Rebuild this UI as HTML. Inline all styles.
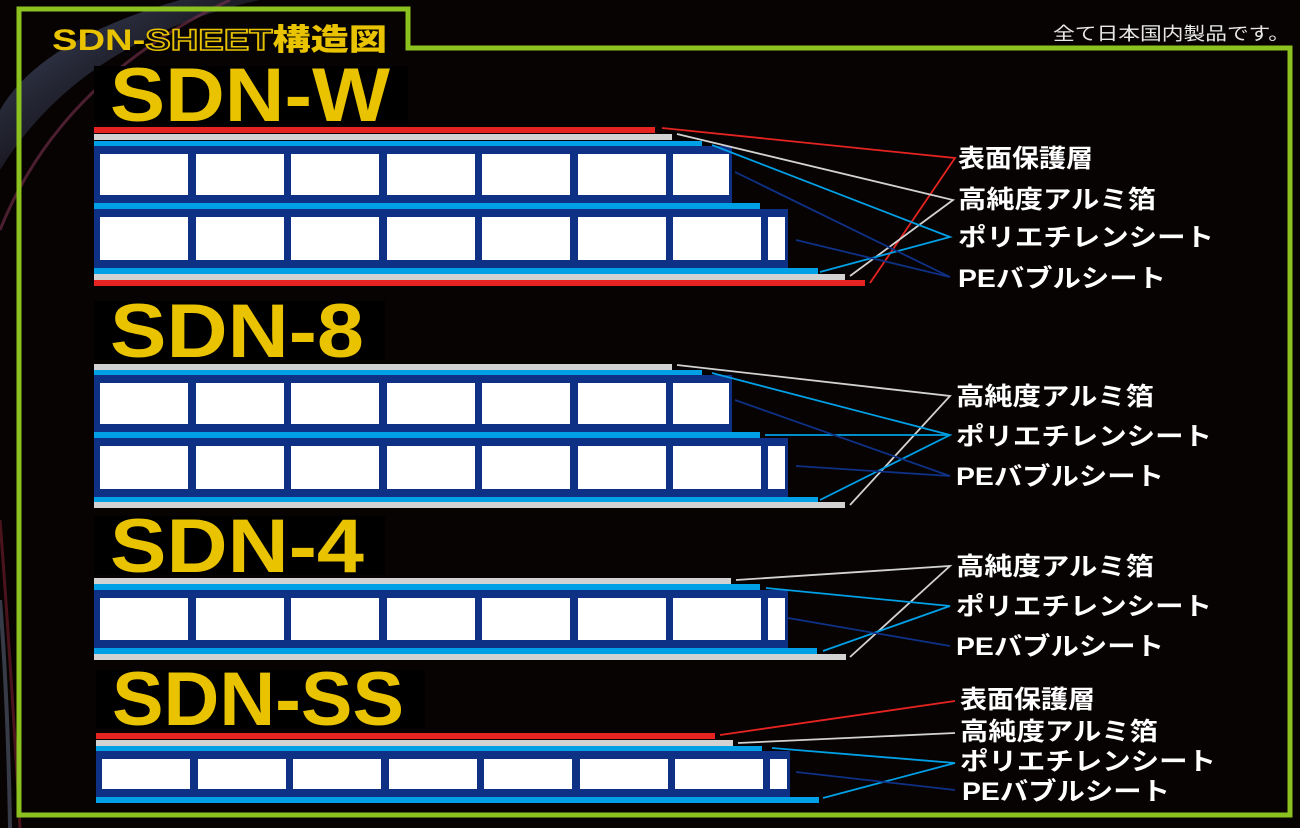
<!DOCTYPE html>
<html><head><meta charset="utf-8"><style>
html,body{margin:0;padding:0;background:#070302;width:1300px;height:828px;overflow:hidden}
svg{display:block}
.lb{font-family:"Liberation Sans","Noto Sans CJK JP",sans-serif;font-weight:bold;fill:#fff;font-size:25px}
.big{font-family:"Liberation Sans","Noto Sans CJK JP",sans-serif;font-weight:900;fill:#e9c300;font-size:76px}
</style></head><body>
<svg id="s" width="1300" height="828" viewBox="0 0 1300 828" xmlns="http://www.w3.org/2000/svg">
<defs>
<linearGradient id="g1" x1="0" y1="0" x2="1" y2="1"><stop offset="0" stop-color="#6a7fa8" stop-opacity=".6"/><stop offset="1" stop-color="#2a2040" stop-opacity="0"/></linearGradient>
</defs>
<rect width="1300" height="828" fill="#070302"/>
<path d="M0,170 Q80,40 260,0 L180,0 Q40,40 0,110Z" fill="url(#g1)"/>
<path d="M0,230 Q60,80 230,0" stroke="#7a3050" stroke-width="3" fill="none" opacity=".6"/>
<path d="M0,520 Q10,650 20,828" stroke="#7a2030" stroke-width="3" fill="none" opacity=".6"/>
<path d="M0,600 Q8,700 10,828" stroke="#8090b0" stroke-width="4" fill="none" opacity=".4"/>
<path d="M19,815 L19,9 L408,9 L408,48 L1290,48 L1290,815 Z" fill="none" stroke="#8cc21f" stroke-width="5"/>
<text x="52" y="50" font-family="'Liberation Sans','Noto Sans CJK JP',sans-serif" font-weight="900" font-size="30" fill="#e9c300" textLength="335" lengthAdjust="spacingAndGlyphs">SDN-<tspan fill="#111" stroke="#e9c300" stroke-width="1.5">SHEET</tspan>構造図</text>
<text x="1053" y="40" font-family="'Liberation Sans','Noto Sans CJK JP',sans-serif" font-size="18" fill="#e8e8e8" textLength="237" lengthAdjust="spacingAndGlyphs">全て日本国内製品です。</text>
<g id="body"></g>
</svg>
<script>
const g=document.getElementById('body');const NS='http://www.w3.org/2000/svg';
function R(x,y,w,h,c){const r=document.createElementNS(NS,'rect');r.setAttribute('x',x);r.setAttribute('y',y);r.setAttribute('width',w);r.setAttribute('height',h);r.setAttribute('fill',c);g.appendChild(r);}
function L(pts,c,w){const p=document.createElementNS(NS,'polyline');p.setAttribute('points',pts);p.setAttribute('stroke',c);p.setAttribute('stroke-width',w||1.8);p.setAttribute('fill','none');g.appendChild(p);}
function T(x,y,s,cls,len){const t=document.createElementNS(NS,'text');t.setAttribute('x',x);t.setAttribute('y',y);t.setAttribute('class',cls);if(len){t.setAttribute('textLength',len);t.setAttribute('lengthAdjust','spacingAndGlyphs');}t.textContent=s;g.appendChild(t);}
const RED='#e52421',GR='#d2d2d2',BL='#00a0e6',NV='#0e3186',W='#fff';
function block(x0,y,h,x1){R(x0,y,x1-x0,h,NV);const cy=y+8,ch=h-16;const xs=[100,196,291,387,482,578,673,768];for(let i=0;i<xs.length;i++){let a=xs[i]+(x0-94),b=a+88;if(b>x1-3)b=x1-3;if(a<x1-3)R(a,cy,b-a,ch,W);}}
function label(x,y,w,h,s,tl){R(x,y,w,h,'#000');T(x+16,y+h-3,s,'big',tl);}
label(94,66,314,58,'SDN-W',280);
R(94,127,561,6,RED);R(94,134,578,6,GR);R(94,141,608,6,BL);block(94,146,57,732);
R(94,203,666,6,BL);block(94,209,59,788);R(94,268,724,6,BL);R(94,274,751,6,GR);R(94,280,771,6,RED);
L('662,128 955,158 870,283',RED);L('677,134 953,200 850,276',GR);L('712,145 950,237 820,272',BL);
L('735,172 950,277 796,240',NV);
T(958,167,'表面保護層','lb',135);T(958,208,'高純度アルミ箔','lb',198);T(958,246,'ポリエチレンシート','lb',256);T(958,287,'PEバブルシート','lb',208);
label(94,301,291,59,'SDN-8',254);
R(94,364,578,6,GR);R(94,370,608,6,BL);block(94,375,57,732);R(94,432,666,6,BL);block(94,438,59,788);R(94,497,724,6,BL);R(94,502,751,6,GR);
L('677,365 950,396 850,505',GR);L('712,373 950,435 820,500',BL);L('765,435 950,435',BL);
L('735,400 950,476 796,466',NV);
T(956,405,'高純度アルミ箔','lb',198);T(956,445,'ポリエチレンシート','lb',256);T(956,485,'PEバブルシート','lb',208);
label(94,516,291,59,'SDN-4',254);
R(94,578,637,6,GR);R(94,584,666,6,BL);block(94,590,58,788);R(94,648,723,6,BL);R(94,654,752,6,GR);
L('736,580 950,566 850,657',GR);L('766,588 950,606 823,651',BL);L('788,618 950,646',NV);
T(956,575,'高純度アルミ箔','lb',198);T(956,615,'ポリエチレンシート','lb',256);T(956,655,'PEバブルシート','lb',208);
label(96,670,329,58,'SDN-SS',292);
R(96,733,619,6,RED);R(96,740,637,6,GR);R(96,746,666,5,BL);block(96,751,46,790);R(96,797,723,6,BL);
L('720,735 955,701',RED);L('738,743 955,733',GR);L('772,748 955,763 823,798',BL);L('796,772 955,790',NV);
T(960,708,'表面保護層','lb',135);T(960,740,'高純度アルミ箔','lb',198);T(960,770,'ポリエチレンシート','lb',256);T(962,800,'PEバブルシート','lb',208);
</script>
</body></html>
